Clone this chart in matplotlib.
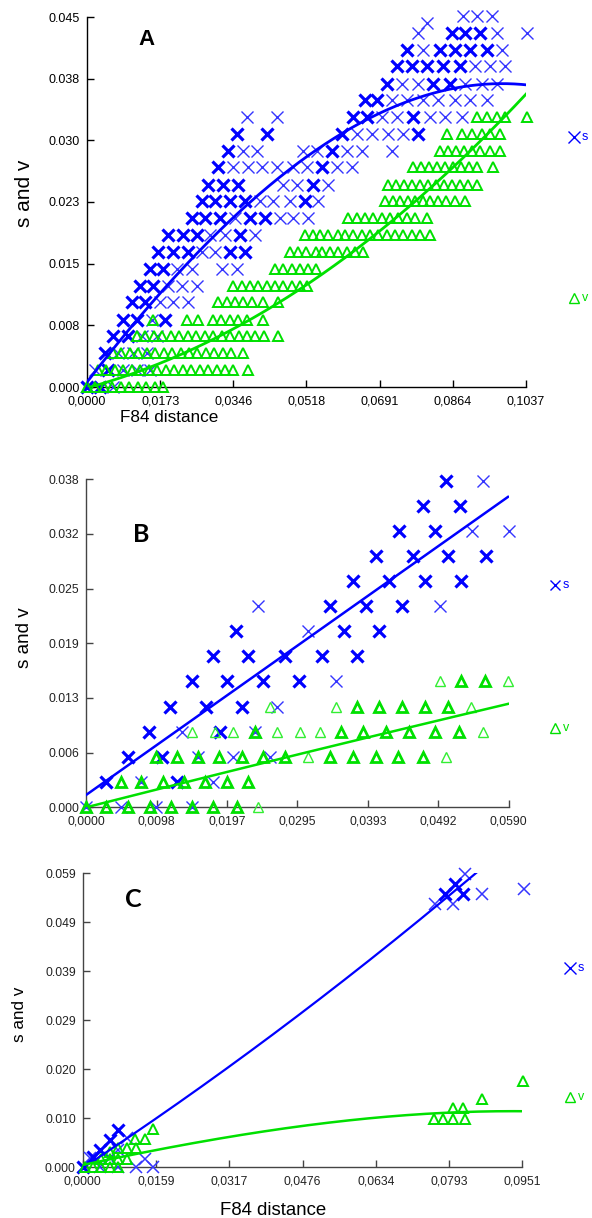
import numpy as np
import matplotlib
matplotlib.use("Agg")
import matplotlib.pyplot as plt
from matplotlib.lines import Line2D

plt.rcParams['font.family'] = ['Liberation Sans', 'DejaVu Sans']

W, H = 592, 1218
BLUE = '#0000ff'
BLUE_THIN = '#3535ff'
GREEN = '#00e000'
GREEN_THIN = '#33ee33'

# ================= Panel A data =================
A_xticks = [0.0, 0.0173, 0.0346, 0.0518, 0.0691, 0.0864, 0.1037]
A_xticklabels = ['0,0000', '0,0173', '0,0346', '0,0518', '0,0691', '0,0864', '0,1037']
A_yticks = [0.0, 0.0075, 0.015, 0.0225, 0.030, 0.0375, 0.045]
A_yticklabels = ['0.000', '0.008', '0.015', '0.023', '0.030', '0.038', '0.045']

A_s_y = [0.0000, 0.0021, 0.0041, 0.0062, 0.0082, 0.0103, 0.0123, 0.0144, 0.0164, 0.0185,
         0.0205, 0.0226, 0.0246, 0.0267, 0.0287, 0.0308, 0.0328, 0.0349, 0.0369, 0.0390,
         0.0410, 0.0431, 0.0443, 0.0451]
A_s_x = [
    [0.0000, 0.0031, 0.0061],
    [0.0019, 0.0050, 0.0085, 0.0118, 0.0149],
    [0.0043, 0.0073, 0.0109, 0.0142],
    [0.0061, 0.0097, 0.0130, 0.0165],
    [0.0085, 0.0118, 0.0154, 0.0184],
    [0.0106, 0.0137, 0.0172, 0.0203, 0.0239],
    [0.0125, 0.0156, 0.0191, 0.0224, 0.0260],
    [0.0149, 0.0180, 0.0213, 0.0248, 0.0319, 0.0354],
    [0.0168, 0.0203, 0.0239, 0.0272, 0.0302, 0.0338, 0.0373],
    [0.0191, 0.0227, 0.0260, 0.0291, 0.0326, 0.0361, 0.0397],
    [0.0248, 0.0279, 0.0314, 0.0350, 0.0385, 0.0420, 0.0456, 0.0487, 0.0522],
    [0.0272, 0.0302, 0.0338, 0.0373, 0.0409, 0.0439, 0.0479, 0.0515, 0.0546],
    [0.0286, 0.0321, 0.0357, 0.0463, 0.0496, 0.0534, 0.0569],
    [0.0309, 0.0345, 0.0380, 0.0413, 0.0449, 0.0487, 0.0520, 0.0555, 0.0590, 0.0626],
    [0.0333, 0.0368, 0.0402, 0.0510, 0.0543, 0.0579, 0.0614, 0.0650, 0.0720],
    [0.0354, 0.0425, 0.0602, 0.0638, 0.0673, 0.0711, 0.0746, 0.0782],
    [0.0378, 0.0449, 0.0628, 0.0661, 0.0697, 0.0732, 0.0770, 0.0810, 0.0846, 0.0886],
    [0.0657, 0.0685, 0.0720, 0.0756, 0.0794, 0.0829, 0.0869, 0.0905, 0.0945],
    [0.0709, 0.0744, 0.0782, 0.0817, 0.0857, 0.0893, 0.0933, 0.0968],
    [0.0732, 0.0768, 0.0803, 0.0841, 0.0881, 0.0916, 0.0952, 0.0987],
    [0.0756, 0.0794, 0.0834, 0.0869, 0.0905, 0.0945, 0.0980],
    [0.0782, 0.0862, 0.0893, 0.0928, 0.0968, 0.1039],
    [0.0803],
    [0.0888, 0.0921, 0.0957],
]
A_s_w = [
    [2, 2, 1], [1, 2, 1, 1, 1], [2, 1, 1, 1], [2, 2, 1, 1], [2, 2, 1, 2],
    [2, 2, 1, 1, 1], [2, 2, 1, 1, 1], [2, 2, 1, 1, 1, 1], [2, 2, 2, 1, 1, 2, 2],
    [2, 2, 2, 1, 1, 2, 1], [2, 2, 2, 1, 2, 2, 1, 1, 1], [2, 2, 2, 2, 1, 1, 1, 2, 1],
    [2, 2, 2, 1, 1, 2, 1], [2, 1, 1, 1, 1, 1, 1, 2, 1, 1], [2, 1, 1, 1, 1, 2, 1, 1, 1],
    [2, 2, 2, 1, 1, 1, 1, 2], [1, 1, 2, 2, 1, 1, 2, 1, 1, 1], [2, 2, 1, 1, 1, 1, 1, 1, 1],
    [2, 1, 1, 2, 2, 1, 1, 1], [2, 2, 2, 2, 2, 1, 1, 1], [2, 1, 2, 2, 2, 2, 1],
    [1, 2, 2, 2, 1, 1], [1], [1, 1, 1],
]

A_v_y = [0.0000, 0.0021, 0.0041, 0.0062, 0.0082, 0.0103, 0.0123, 0.0144, 0.0164, 0.0185,
         0.0205, 0.0226, 0.0246, 0.0267, 0.0287, 0.0308, 0.0328]
A_v_x = [
    [0.0000, 0.0020, 0.0040, 0.0060, 0.0080, 0.0100, 0.0120, 0.0140, 0.0160, 0.0180],
    [0.0026, 0.0046, 0.0066, 0.0086, 0.0106, 0.0126, 0.0146, 0.0166, 0.0186, 0.0206,
     0.0226, 0.0246, 0.0266, 0.0286, 0.0306, 0.0326, 0.0346, 0.0380],
    [0.0061, 0.0081, 0.0101, 0.0121, 0.0141, 0.0161, 0.0181, 0.0201, 0.0221, 0.0241,
     0.0261, 0.0281, 0.0301, 0.0321, 0.0341, 0.0368],
    [0.0118, 0.0138, 0.0158, 0.0178, 0.0198, 0.0218, 0.0238, 0.0258, 0.0278, 0.0298,
     0.0318, 0.0338, 0.0358, 0.0378, 0.0398, 0.0418, 0.0451],
    [0.0156, 0.0236, 0.0262, 0.0298, 0.0317, 0.0338, 0.0357, 0.0378, 0.0416],
    [0.0309, 0.0331, 0.0350, 0.0368, 0.0390, 0.0416, 0.0451],
    [0.0345, 0.0366, 0.0385, 0.0404, 0.0425, 0.0444, 0.0463, 0.0484, 0.0503, 0.0520],
    [0.0444, 0.0463, 0.0484, 0.0503, 0.0522, 0.0541],
    [0.0479, 0.0498, 0.0517, 0.0541, 0.0555, 0.0574, 0.0593, 0.0614, 0.0633, 0.0652],
    [0.0515, 0.0534, 0.0550, 0.0569, 0.0593, 0.0609, 0.0628, 0.0650, 0.0668, 0.0687,
     0.0709, 0.0727, 0.0746, 0.0768, 0.0787, 0.0810],
    [0.0616, 0.0638, 0.0657, 0.0676, 0.0697, 0.0716, 0.0735, 0.0756, 0.0775, 0.0803],
    [0.0704, 0.0723, 0.0739, 0.0758, 0.0775, 0.0794, 0.0810, 0.0829, 0.0848, 0.0869, 0.0893],
    [0.0711, 0.0730, 0.0749, 0.0768, 0.0787, 0.0805, 0.0824, 0.0843, 0.0862, 0.0881,
     0.0900, 0.0921],
    [0.0770, 0.0789, 0.0808, 0.0827, 0.0846, 0.0864, 0.0883, 0.0902, 0.0921, 0.0959],
    [0.0834, 0.0853, 0.0872, 0.0890, 0.0909, 0.0928, 0.0952, 0.0976],
    [0.0850, 0.0886, 0.0909, 0.0933, 0.0952, 0.0976],
    [0.0921, 0.0945, 0.0968, 0.0987, 0.1039],
]

# points read along the fitted curves of panel A
A_sfit_x = [0.0000, 0.0203, 0.0409, 0.0456, 0.0598, 0.0692, 0.0810, 0.0929, 0.1037]
A_sfit_y = [0.0009, 0.0122, 0.0240, 0.0260, 0.0309, 0.0331, 0.0353, 0.0366, 0.0370]
A_vfit_x = [0.0003, 0.0235, 0.0373, 0.0503, 0.0550, 0.0692, 0.0787, 0.0945, 0.1037]
A_vfit_y = [0.0000, 0.0041, 0.0077, 0.0122, 0.0136, 0.0187, 0.0236, 0.0300, 0.0360]

# ================= Panel B data =================
B_xticks = [0.0, 0.00983, 0.01967, 0.0295, 0.03933, 0.04917, 0.059]
B_xticklabels = ['0,0000', '0,0098', '0,0197', '0,0295', '0,0393', '0,0492', '0,0590']
B_yticks = [0.0, 0.00633, 0.01267, 0.019, 0.02533, 0.03167, 0.038]
B_yticklabels = ['0.000', '0.006', '0.013', '0.019', '0.025', '0.032', '0.038']

B_s_y = [0.0000, 0.0029, 0.0058, 0.0087, 0.0116, 0.0146, 0.0175, 0.0204, 0.0233, 0.0262,
         0.0291, 0.0320, 0.0349, 0.0378]
B_s_x = [
    [0.0000, 0.0048, 0.0097, 0.0147],
    [0.0027, 0.0077, 0.0126, 0.0177],
    [0.0058, 0.0106, 0.0156, 0.0205, 0.0256],
    [0.0088, 0.0134, 0.0187, 0.0235],
    [0.0117, 0.0167, 0.0217, 0.0266],
    [0.0147, 0.0196, 0.0247, 0.0297, 0.0349],
    [0.0177, 0.0226, 0.0277, 0.0329, 0.0378],
    [0.0209, 0.0310, 0.0360, 0.0409],
    [0.0240, 0.0340, 0.0390, 0.0441, 0.0494],
    [0.0372, 0.0423, 0.0473, 0.0524],
    [0.0404, 0.0456, 0.0505, 0.0558],
    [0.0437, 0.0487, 0.0539, 0.0590],
    [0.0470, 0.0522],
    [0.0503, 0.0554],
]
B_s_w = [
    [1, 1, 1, 1], [2, 1, 2, 1], [2, 2, 1, 1, 1], [2, 1, 2, 1], [2, 2, 2, 1],
    [2, 2, 2, 2, 1], [2, 2, 2, 2, 2], [2, 1, 2, 2], [1, 2, 2, 2, 1], [2, 2, 2, 2],
    [2, 2, 2, 2], [2, 2, 1, 1], [2, 2], [2, 1],
]
B_v_y = [0.0000, 0.0029, 0.0058, 0.0087, 0.0116, 0.0146]
B_v_x = [
    [0.0000, 0.0028, 0.0058, 0.0089, 0.0118, 0.0147, 0.0177, 0.0210, 0.0240],
    [0.0049, 0.0077, 0.0107, 0.0137, 0.0166, 0.0196, 0.0226],
    [0.0098, 0.0127, 0.0156, 0.0186, 0.0217, 0.0247, 0.0277, 0.0310, 0.0340, 0.0373,
     0.0404, 0.0436, 0.0470, 0.0503],
    [0.0147, 0.0180, 0.0205, 0.0235, 0.0266, 0.0298, 0.0326, 0.0356, 0.0387, 0.0419,
     0.0451, 0.0487, 0.0521, 0.0554],
    [0.0256, 0.0349, 0.0378, 0.0409, 0.0441, 0.0473, 0.0505, 0.0538],
    [0.0494, 0.0524, 0.0557, 0.0589],
]
B_v_w = [
    [2, 2, 2, 2, 2, 2, 2, 2, 1],
    [2, 2, 2, 2, 2, 2, 2],
    [2, 2, 2, 2, 2, 2, 2, 1, 2, 2, 2, 2, 2, 1],
    [1, 1, 1, 2, 1, 1, 1, 2, 2, 2, 2, 2, 2, 1],
    [1, 1, 2, 2, 2, 2, 2, 1],
    [1, 2, 2, 1],
]
B_sfit_x = [0.0000, 0.0424, 0.0589]
B_sfit_y = [0.0015, 0.0261, 0.0361]
B_vfit_x = [0.0033, 0.0270, 0.0590]
B_vfit_y = [0.0000, 0.0056, 0.0120]

# ================= Panel C data =================
C_xticks = [0.0, 0.01585, 0.0317, 0.04755, 0.0634, 0.07925, 0.0951]
C_xticklabels = ['0,0000', '0,0159', '0,0317', '0,0476', '0,0634', '0,0793', '0,0951']
C_yticks = [0.0, 0.00983, 0.01967, 0.0295, 0.03933, 0.04917, 0.059]
C_yticklabels = ['0.000', '0.010', '0.020', '0.029', '0.039', '0.049', '0.059']

C_s_x = [0.0000, 0.0015, 0.0022, 0.0037, 0.0037, 0.0058, 0.0058, 0.0077, 0.0077, 0.0077,
         0.0095, 0.0116, 0.0134, 0.0152,
         0.0762, 0.0784, 0.0806, 0.0827, 0.0802, 0.0822, 0.0863, 0.0954]
C_s_y = [0.0000, 0.0018, 0.0021, 0.0034, 0.0000, 0.0054, 0.0018, 0.0074, 0.0034, 0.0000,
         0.0058, 0.0001, 0.0017, 0.0001,
         0.0529, 0.0549, 0.0569, 0.0589, 0.0529, 0.0549, 0.0549, 0.0559]
C_s_w = [2, 1, 2, 2, 1, 2, 1, 2, 1, 1, 1, 1, 1, 1,
         1, 2, 2, 1, 1, 2, 1, 1]
C_v_x = [0.0004, 0.0022, 0.0040, 0.0058, 0.0077, 0.0040, 0.0058, 0.0077, 0.0095,
         0.0058, 0.0077, 0.0095, 0.0116, 0.0114, 0.0134, 0.0152,
         0.0759, 0.0780, 0.0802, 0.0827, 0.0802, 0.0822, 0.0863, 0.0952]
C_v_y = [0.0000, 0.0000, 0.0000, 0.0000, 0.0000, 0.0017, 0.0017, 0.0017, 0.0017,
         0.0030, 0.0038, 0.0038, 0.0038, 0.0056, 0.0056, 0.0076,
         0.0096, 0.0096, 0.0096, 0.0096, 0.0118, 0.0118, 0.0136, 0.0173]
C_sfit_x = [0.0000, 0.0145, 0.0405, 0.0643, 0.0854]
C_sfit_y = [0.0000, 0.0088, 0.0255, 0.0442, 0.0589]
C_vfit_x = [0.0000, 0.0124, 0.0427, 0.0643, 0.0952]
C_vfit_y = [0.0004, 0.0028, 0.0076, 0.0100, 0.0112]

# ================= drawing helpers =================
fig = plt.figure(figsize=(W / 100, H / 100), dpi=100)
fig.patch.set_facecolor('white')


def axes_px(x0, x1, ytop, ybot):
    return fig.add_axes([x0 / W, 1 - ybot / H, (x1 - x0) / W, (ybot - ytop) / H])


def setup(ax, xmax, ymax, xt, xtl, yt, ytl, spine_col, lab_col, fs):
    ax.set_xlim(0, xmax)
    ax.set_ylim(0, ymax)
    ax.patch.set_alpha(0)
    for s in ('top', 'right'):
        ax.spines[s].set_visible(False)
    for s in ('left', 'bottom'):
        ax.spines[s].set_color(spine_col)
        ax.spines[s].set_linewidth(1.0)
    ax.set_xticks(xt)
    ax.set_xticklabels(xtl)
    ax.set_yticks(yt)
    ax.set_yticklabels(ytl)
    ax.tick_params(direction='in', length=5, width=1.0, color=spine_col,
                   labelcolor=lab_col, labelsize=fs)
    ax.tick_params(axis='x', pad=6)
    ax.tick_params(axis='y', pad=5)


def flatten(ys, xs, ws=None):
    px, py, pw = [], [], []
    for i, (y, row) in enumerate(zip(ys, xs)):
        for j, x in enumerate(row):
            px.append(x)
            py.append(y)
            pw.append(ws[i][j] if ws is not None else 1)
    return np.array(px), np.array(py), np.array(pw)


def draw_marks(ax, x, y, w, marker, c_thin, c_bold, ms, mew_thin, mew_bold):
    x = np.asarray(x); y = np.asarray(y); w = np.asarray(w)
    t = w == 1
    ax.plot(x[t], y[t], ls='none', marker=marker, ms=ms, mfc='none', mec=c_thin,
            mew=mew_thin, clip_on=False, zorder=3)
    b = w > 1
    ax.plot(x[b], y[b], ls='none', marker=marker, ms=ms, mfc='none', mec=c_bold,
            mew=mew_bold, clip_on=False, zorder=3)


def fit_line(ax, fx, fy, deg, color, lw):
    c = np.polyfit(fx, fy, deg)
    xx = np.linspace(min(fx), max(fx), 300)
    ax.plot(xx, np.polyval(c, xx), color=color, lw=lw, zorder=4)


def legend_item(xp, yp, marker, color, text, ms):
    fig.add_artist(Line2D([xp / W], [1 - yp / H], transform=fig.transFigure, ls='none',
                          marker=marker, ms=ms, mfc='none', mec=color, mew=1.0))
    fig.text((xp + 8) / W, 1 - yp / H, text, color=color, fontsize=9,
             ha='left', va='center')


# ================= Panel A =================
axA = axes_px(87, 526, 17, 387)
setup(axA, 0.1037, 0.045, A_xticks, A_xticklabels, A_yticks, A_yticklabels,
      'black', 'black', 9)
x, y, w = flatten(A_s_y, A_s_x, A_s_w)
draw_marks(axA, x, y, w, 'x', BLUE_THIN, BLUE, 8.5, 1.0, 2.3)
x, y, w = flatten(A_v_y, A_v_x)
draw_marks(axA, x, y, w, '^', GREEN, GREEN, 7.5, 1.4, 1.4)
fit_line(axA, A_sfit_x, A_sfit_y, 3, BLUE, 2.0)
fit_line(axA, A_vfit_x, A_vfit_y, 3, GREEN, 2.0)
fig.text(146.7 / W, 1 - 45 / H, 'A', fontsize=16, fontweight='bold',
         ha='center', va='baseline')
fig.text(169 / W, 1 - 422 / H, 'F84 distance', fontsize=12.3, ha='center', va='baseline')
fig.text(24.5 / W, 1 - 193 / H, 's and v', fontsize=15, rotation=90,
         ha='center', va='center')
legend_item(573.5, 137, 'x', BLUE, 's', 8)
legend_item(573.5, 298, '^', GREEN, 'v', 7.5)

# ================= Panel B =================
axB = axes_px(86.3, 508.7, 479.3, 807.3)
setup(axB, 0.059, 0.038, B_xticks, B_xticklabels, B_yticks, B_yticklabels,
      '#444444', '#222222', 8.7)
x, y, w = flatten(B_s_y, B_s_x, B_s_w)
draw_marks(axB, x, y, w, 'x', BLUE_THIN, BLUE, 8, 1.0, 2.3)
x, y, w = flatten(B_v_y, B_v_x, B_v_w)
draw_marks(axB, x, y, w, '^', GREEN_THIN, GREEN, 7.2, 1.0, 2.0)
fit_line(axB, B_sfit_x, B_sfit_y, 1, BLUE, 1.8)
fit_line(axB, [0.0] + B_vfit_x[1:], B_vfit_y, 2, GREEN, 1.8)
fig.text(141 / W, 1 - 541.7 / H, 'B', fontsize=18, fontweight='bold',
         family=['Lato', 'DejaVu Sans'], ha='center', va='baseline')
fig.text(24.5 / W, 1 - 637.5 / H, 's and v', fontsize=13.6, rotation=90,
         ha='center', va='center')
legend_item(555, 585, 'x', BLUE, 's', 7.5)
legend_item(555, 728, '^', GREEN, 'v', 7.2)

# ================= Panel C =================
axC = axes_px(82.7, 522.3, 873.3, 1167)
setup(axC, 0.0951, 0.059, C_xticks, C_xticklabels, C_yticks, C_yticklabels,
      '#444444', '#222222', 8.7)
draw_marks(axC, C_s_x, C_s_y, C_s_w, 'x', BLUE_THIN, BLUE, 8.5, 1.1, 2.2)
draw_marks(axC, C_v_x, C_v_y, np.ones(len(C_v_x)), '^', GREEN, GREEN, 7.2, 1.4, 1.4)
fit_line(axC, C_sfit_x, C_sfit_y, 2, BLUE, 1.6)
fit_line(axC, C_vfit_x, C_vfit_y, 3, GREEN, 1.8)
fig.text(133.7 / W, 1 - 907.3 / H, 'C', fontsize=18, fontweight='bold',
         family=['Lato', 'DejaVu Sans'], ha='center', va='baseline')
fig.text(273 / W, 1 - 1215 / H, 'F84 distance', fontsize=13.4, ha='center', va='baseline')
fig.text(19.5 / W, 1 - 1014 / H, 's and v', fontsize=12.3, rotation=90,
         ha='center', va='center')
legend_item(570, 968, 'x', BLUE, 's', 8)
legend_item(570, 1096.5, '^', GREEN, 'v', 7.2)

fig.savefig('out.png', dpi=100, facecolor='white')
